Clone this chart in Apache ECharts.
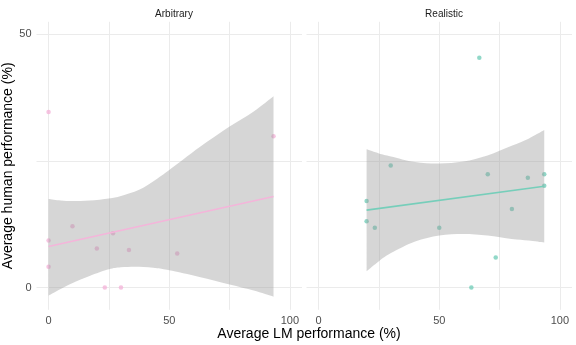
<!DOCTYPE html>
<html lang="en">
<head>
    <meta charset="UTF-8">
    <title>LM vs human performance</title>
    <script src="https://cdn.jsdelivr.net/npm/echarts@6/dist/echarts.min.js"></script>
    <style>
        html, body { margin: 0; padding: 0; background: #fff; }
    </style>
</head>
<body>
<div id="main" style="width:576px;height:345px"></div>
<script type="text/javascript">
    // panel names
    var panels = ['Arbitrary', 'Realistic'];

    // Arbitrary: points (LM %, human %)
    var arbX = [0, 0, 0, 9.9, 20.0, 23.3, 26.7, 30.0, 33.3, 53.3, 93.2];
    var arbY = [34.7, 9.3, 4.1, 12.1, 7.7, 0, 10.7, 0, 7.4, 6.7, 29.9];
    // Arbitrary: fitted line + confidence band
    var arbFitX = [0, 93.2];
    var arbFitY = [8.1, 18.0];
    var arbBandX = [0, 5, 10, 17, 25, 30, 37.5, 45, 50, 62.5, 75, 85, 93.2];
    var arbBandLow = [-1.6, -0.3, 0.9, 2.3, 3.6, 4.0, 4.1, 3.8, 3.4, 2.1, 0.6, -0.6, -1.8];
    var arbBandHigh = [17.5, 17.2, 17.1, 17.2, 17.6, 18.1, 19.3, 21.5, 23.2, 27.7, 31.8, 34.8, 37.8];

    // Realistic: points
    var realX = [19.9, 19.9, 23.3, 29.9, 50.0, 63.3, 66.6, 70.1, 73.4, 80.1, 86.7, 93.5, 93.5];
    var realY = [17.1, 13.1, 11.8, 24.1, 11.8, 0, 45.4, 22.4, 5.95, 15.5, 21.7, 22.4, 20.1];
    var realFitX = [19.9, 93.5];
    var realFitY = [15.3, 20.0];
    var realBandX = [19.9, 25, 30, 40, 50, 60, 70, 80, 87, 93.5];
    var realBandLow = [3.2, 5.2, 6.8, 9.1, 10.3, 10.6, 10.3, 9.6, 9.3, 8.9];
    var realBandHigh = [27.3, 26.5, 25.9, 24.8, 24.5, 24.9, 26.1, 28.0, 29.4, 31.1];

    // axis ticks
    var gridTicksX = [0, 25, 50, 75, 100];
    var labelTicksX = [0, 50, 100];
    var gridTicksY = [0, 25, 50];
    var labelTicksY = [0, 50];

    var pink = '#F4B5DA';
    var teal = '#76CEBA';

    function pairs(xs, ys) {
        return xs.map(function (x, i) { return [x, ys[i]]; });
    }

    function makeX(idx) {
        return {
            type: 'value', gridIndex: idx, min: -5, max: 105,
            axisLine: {show: false},
            axisTick: {show: false, customValues: gridTicksX},
            axisLabel: {customValues: labelTicksX, color: '#4D4D4D', fontSize: 11, margin: 6,
                fontFamily: 'Liberation Sans'},
            splitLine: {show: true, lineStyle: {color: '#EBEBEB', width: 1}}
        };
    }

    function makeY(idx) {
        var ax = {
            type: 'value', gridIndex: idx, min: -4.4, max: 52.5,
            axisLine: {show: false},
            axisTick: {show: false, customValues: gridTicksY},
            axisLabel: {show: idx === 0, customValues: labelTicksY, color: '#4D4D4D', fontSize: 11, margin: 5,
                fontFamily: 'Liberation Sans'},
            splitLine: {show: true, lineStyle: {color: '#EBEBEB', width: 1}}
        };
        if (idx === 0) {
            ax.name = 'Average human performance (%)';
            ax.nameLocation = 'middle';
            ax.nameRotate = 90;
            ax.nameGap = 15;
            ax.nameTextStyle = {fontSize: 14, color: '#000', fontFamily: 'Liberation Sans'};
        }
        return ax;
    }

    // smooth path through screen points (Catmull-Rom as cubic bezier)
    function curveTo(pts, start) {
        var d = (start ? 'M' : 'L') + pts[0][0] + ',' + pts[0][1];
        for (var i = 0; i < pts.length - 1; i++) {
            var p0 = pts[i - 1] || pts[i], p1 = pts[i], p2 = pts[i + 1], p3 = pts[i + 2] || pts[i + 1];
            var c1 = [p1[0] + (p2[0] - p0[0]) / 6, p1[1] + (p2[1] - p0[1]) / 6];
            var c2 = [p2[0] - (p3[0] - p1[0]) / 6, p2[1] - (p3[1] - p1[1]) / 6];
            d += 'C' + c1[0] + ',' + c1[1] + ',' + c2[0] + ',' + c2[1] + ',' + p2[0] + ',' + p2[1];
        }
        return d;
    }

    // confidence band as one filled shape: lower edge left->right, upper edge back
    function bandSeries(idx, bx, blow, bhigh) {
        return {
            type: 'custom', xAxisIndex: idx, yAxisIndex: idx, z: 2,
            silent: true,
            data: bx.map(function (x, i) { return [x, blow[i], bhigh[i]]; }),
            renderItem: function (params, api) {
                if (params.dataIndex !== 0) return;
                var lowPts = [], highPts = [];
                for (var i = 0; i < bx.length; i++) {
                    lowPts.push(api.coord([bx[i], blow[i]]));
                    highPts.push(api.coord([bx[i], bhigh[i]]));
                }
                return {
                    type: 'path',
                    shape: {pathData: curveTo(lowPts, true) + curveTo(highPts.reverse(), false) + 'Z'},
                    style: {fill: 'rgba(153,153,153,0.4)', stroke: 'none'}
                };
            }
        };
    }

    function panelSeries(idx, px, py, fx, fy, bx, blow, bhigh, color) {
        return [
            {
                type: 'scatter', xAxisIndex: idx, yAxisIndex: idx, z: 1,
                symbolSize: 4.5, itemStyle: {color: color},
                data: pairs(px, py)
            },
            bandSeries(idx, bx, blow, bhigh),
            {
                type: 'line', xAxisIndex: idx, yAxisIndex: idx, z: 3,
                symbol: 'none', lineStyle: {color: color, width: 1.6},
                data: pairs(fx, fy)
            }
        ];
    }

    var chartDom = document.getElementById('main');
    var myChart = echarts.init(chartDom, null, {renderer: 'canvas'});
    var option = {
        animation: false,
        backgroundColor: '#fff',
        textStyle: {fontFamily: 'Liberation Sans'},
        title: [
            {text: panels[0], left: 169, top: 4, textAlign: 'center',
                textStyle: {fontSize: 10, fontWeight: 'normal', color: '#1A1A1A'}},
            {text: panels[1], left: 439, top: 4, textAlign: 'center',
                textStyle: {fontSize: 10, fontWeight: 'normal', color: '#1A1A1A'}},
            {text: 'Average LM performance (%)', left: 304, top: 322, textAlign: 'center',
                textStyle: {fontSize: 14, fontWeight: 'normal', color: '#000'}}
        ],
        grid: [
            {left: 36.5, top: 21.8, width: 265.5, height: 288},
            {left: 306.5, top: 21.8, width: 265.5, height: 288}
        ],
        xAxis: [makeX(0), makeX(1)],
        yAxis: [makeY(0), makeY(1)],
        series: []
            .concat(panelSeries(0, arbX, arbY, arbFitX, arbFitY, arbBandX, arbBandLow, arbBandHigh, pink))
            .concat(panelSeries(1, realX, realY, realFitX, realFitY, realBandX, realBandLow, realBandHigh, teal))
    };

    option && myChart.setOption(option);
</script>
</body>
</html>
